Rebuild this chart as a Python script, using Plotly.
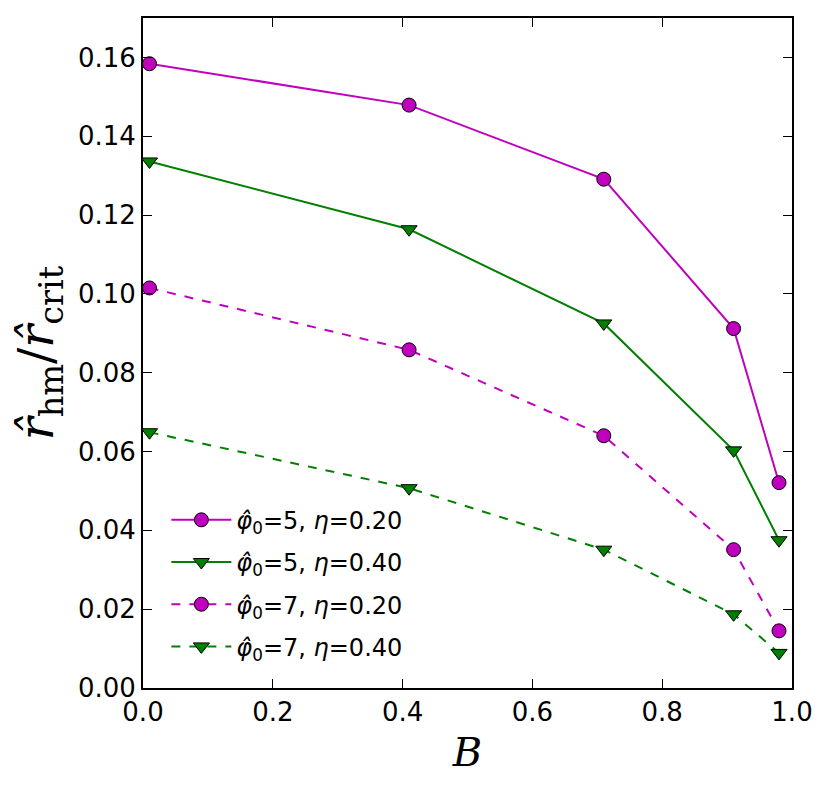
import plotly.graph_objects as go

B = [0.01, 0.41, 0.71, 0.91, 0.98]
phi5_eta20 = [0.1584, 0.1479, 0.1291, 0.0912, 0.0521]
phi5_eta40 = [0.1336, 0.1164, 0.0925, 0.0603, 0.0375]
phi7_eta20 = [0.1015, 0.0858, 0.0640, 0.0351, 0.0145]
phi7_eta40 = [0.0649, 0.0507, 0.0351, 0.0187, 0.0089]
labels = [
    "<i>φ̂</i><sub>0</sub>=5, <i>η</i>=0.20",
    "<i>φ̂</i><sub>0</sub>=5, <i>η</i>=0.40",
    "<i>φ̂</i><sub>0</sub>=7, <i>η</i>=0.20",
    "<i>φ̂</i><sub>0</sub>=7, <i>η</i>=0.40",
]

MAG = "#bf00bf"
GRN = "#007f00"
series = [
    (phi5_eta20, MAG, "solid", "circle"),
    (phi5_eta40, GRN, "solid", "triangle-down"),
    (phi7_eta20, MAG, "dash", "circle"),
    (phi7_eta40, GRN, "dash", "triangle-down"),
]

fig = go.Figure()
for i, (ys, col, dash, sym) in enumerate(series):
    fig.add_trace(go.Scatter(
        x=B, y=ys, mode="lines+markers", name=labels[i], legendgroup=str(i),
        line=dict(color=col, width=2, dash=dash),
        marker=dict(symbol=sym, size=14, color=col, line=dict(color="black", width=1)),
    ))

axis_common = dict(
    showgrid=False, zeroline=False, showline=True, linecolor="black", linewidth=2,
    mirror="allticks", ticks="inside", ticklen=9, tickwidth=1, tickcolor="black",
    tickfont=dict(family="DejaVu Sans", size=26, color="black"),
)
fig.update_xaxes(range=[0, 1], dtick=0.2, tickformat=".1f",
                 title=dict(text="<i>B</i>", font=dict(family="DejaVu Serif", size=40, color="black"), standoff=12),
                 **axis_common)
fig.update_yaxes(range=[0, 0.17], dtick=0.02, tickformat=".2f",
                 title=dict(text="<i>r̂</i><sub>hm</sub>/<i>r̂</i><sub>crit</sub>",
                            font=dict(family="DejaVu Serif", size=48, color="black"), standoff=14),
                 **axis_common)
fig.update_layout(
    width=830, height=794,
    margin=dict(l=135, r=46, t=8, b=114),
    plot_bgcolor="white", paper_bgcolor="white",
    showlegend=True,
    legend=dict(x=0.036, y=0.284, xanchor="left", yanchor="top", bgcolor="rgba(0,0,0,0)",
                font=dict(family="DejaVu Sans", size=24, color="black"),
                traceorder="grouped", tracegroupgap=8, itemwidth=60),
)
fig.write_html("out.html")
